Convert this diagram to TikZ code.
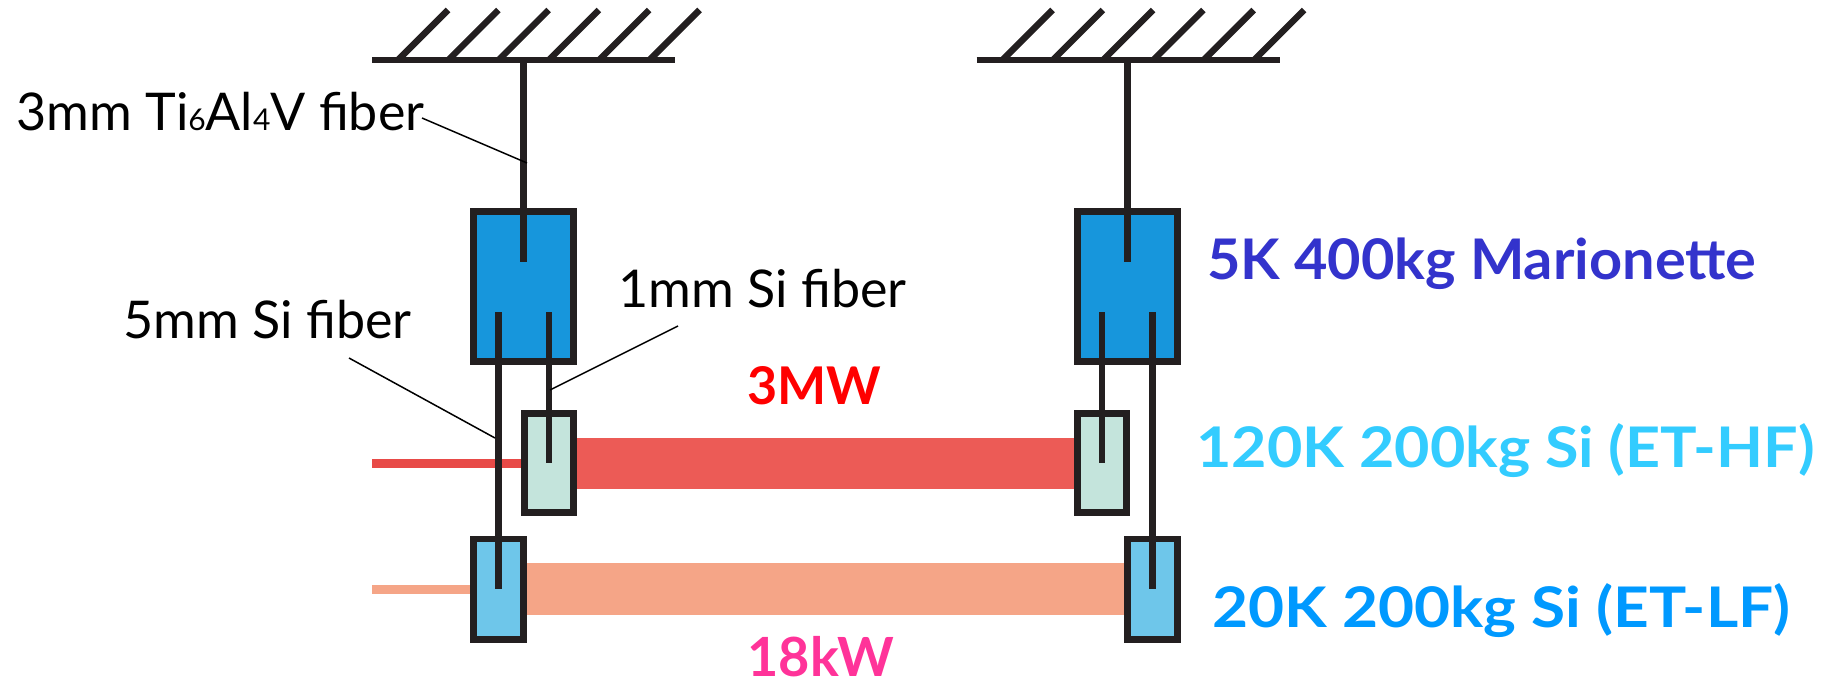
\documentclass[tikz,border=0pt]{standalone}
\usepackage{fontspec}
\setmainfont{Lato}
\newfontfamily\marifont[FakeStretch=1.03]{Lato Bold}
\newfontfamily\hffont[FakeStretch=1.09]{Lato Bold}
\newfontfamily\lffont[FakeStretch=1.11]{Lato Bold}
\usepackage{xcolor}
\usetikzlibrary{positioning,backgrounds}
\definecolor{wirecol}{HTML}{231F20}
\definecolor{mariocol}{HTML}{1796DC}
\definecolor{hfcol}{HTML}{C4E4DC}
\definecolor{lfcol}{HTML}{6EC6EA}
\definecolor{redbeam}{HTML}{EC5B56}
\definecolor{redthin}{HTML}{E84A47}
\definecolor{orangebeam}{HTML}{F5A587}
\definecolor{mariotext}{HTML}{3333CC}
\definecolor{hftext}{HTML}{33CCFF}
\definecolor{lftext}{HTML}{0099FF}
\definecolor{lowpower}{HTML}{FF3399}

\begin{document}
\begin{tikzpicture}[x=0.5pt, y=-0.5pt,
    wire/.style={line width=3.2pt, wirecol},
    leader/.style={line width=0.75pt, black},
    mass/.style={draw=wirecol, line width=3.4pt, inner sep=0pt, outer sep=0pt},
    mario/.style={mass, fill=mariocol, minimum width=50.1pt, minimum height=75.1pt},
    hfmirror/.style={mass, fill=hfcol, minimum width=24.6pt, minimum height=49.6pt},
    lfmirror/.style={mass, fill=lfcol, minimum width=25.1pt, minimum height=50.1pt},
    label/.style={anchor=base west, inner sep=0pt, font=\fontsize{26}{30}\selectfont},
    tag/.style={label, font=\fontsize{28}{32}\selectfont}
  ]
  \useasboundingbox (0,0) rectangle (1823,681);

  % ===== Masses =====
  \node[mario] (marioL) at (523.5,286.5) {};
  \node[mario] (marioR) at (1127.5,286.5) {};
  \node[hfmirror] (hfL) at (549,463) {};
  \node[hfmirror] (hfR) at (1102,463) {};
  \node[lfmirror] (lfL) at (498.5,589) {};
  \node[lfmirror] (lfR) at (1152.5,589) {};

  % Free ends
  \coordinate (ceilLa) at (372,60);
  \coordinate (ceilLb) at (675,60);
  \coordinate (ceilRa) at (976.5,60);
  \coordinate (ceilRb) at (1279.5,60);
  \coordinate (beamHF) at (372,463);
  \coordinate (beamLF) at (372,589);

  % ===== Laser beams =====
  \begin{scope}[on background layer]
    \draw[line width=25.5pt, redbeam] (hfL.east) -- (hfR.west);
    \draw[line width=26pt, orangebeam] (lfL.east) -- (lfR.west);
    \draw[line width=4.5pt, redthin] (beamHF) -- (hfL.west);
    \draw[line width=4.5pt, orangebeam] (beamLF) -- (lfL.west);
  \end{scope}

  % ===== Ceilings =====
  \draw[wire] (ceilLa) -- (ceilLb);
  \draw[wire] (ceilRa) -- (ceilRb);
  \foreach \i in {0,...,5} {
    \draw[wire] (398+50.3*\i,60) -- ++(50,-50);
    \draw[wire] (1002.5+50.3*\i,60) -- ++(50,-50);
  }

  % ===== Fibers =====
  \coordinate (wallL) at (523.5,60);
  \coordinate (wallR) at (1127.5,60);
  \coordinate (endML) at (523.5,262);
  \coordinate (endMR) at (1127.5,262);
  \coordinate (topHL) at (549,312);
  \coordinate (topLL) at (498.5,312);
  \coordinate (topHR) at (1102,312);
  \coordinate (topLR) at (1152.5,312);
  \draw[wire] (wallL) -- (endML);
  \draw[wire] (wallR) -- (endMR);
  \draw[wire] (topLL) -- (lfL.center);
  \draw[wire] (topHL) -- (hfL.center);
  \draw[wire] (topHR) -- (hfR.center);
  \draw[wire] (topLR) -- (lfR.center);

  % ===== Labels =====
  \node[label] (tifiber) at (16,130) {3mm Ti{\fontsize{15}{15}\selectfont 6}Al{\fontsize{15}{15}\selectfont 4}V fiber};
  \node[label] (fiveSi) at (123,338) {5mm Si fiber};
  \node[label] (oneSi) at (618,307) {1mm Si fiber};
  \node[tag, text=mariotext] (marioT) at (1207,279) {\marifont 5K 400kg Marionette};
  \node[tag, text=hftext] (hfT) at (1196,467) {\hffont 120K 200kg Si (ET-HF)};
  \node[tag, text=lftext] (lfT) at (1212,627) {\lffont 20K 200kg Si (ET-LF)};
  \node[tag, text=red, font=\fontsize{26}{30}\selectfont\bfseries] (hfP) at (747,404) {3MW};
  \node[tag, text=lowpower, font=\fontsize{27}{30}\selectfont\bfseries] (lfP) at (747,676) {18kW};

  % Leader lines
  \coordinate (hitTi) at (527,163);
  \coordinate (hitFive) at (495,438);
  \coordinate (hitOne) at (550,390);
  \coordinate (fromTi) at (422,118);
  \coordinate (fromFive) at (349,358);
  \coordinate (fromOne) at (678,326);
  \draw[leader] (fromTi) -- (hitTi);
  \draw[leader] (fromFive) -- (hitFive);
  \draw[leader] (fromOne) -- (hitOne);
\end{tikzpicture}
\end{document}
